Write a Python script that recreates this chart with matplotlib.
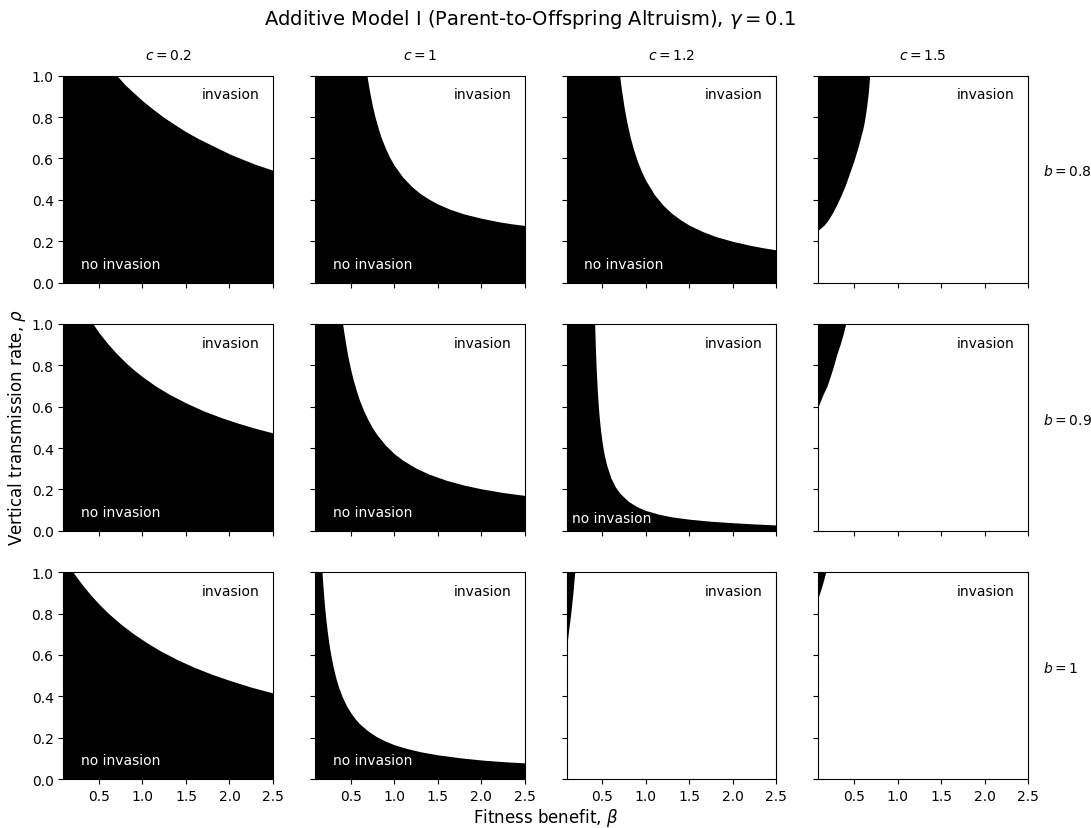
"""
Additive Model I (Parent-to-Offspring Altruism), gamma = 0.1
invasion / no invasion regions in the (beta, rho) plane
"""
import matplotlib
matplotlib.use("Agg")
import matplotlib.pyplot as plt

# panel parameters
c_values = [0.2, 1, 1.2, 1.5]
b_values = [0.8, 0.9, 1]
c_labels = ["0.2", "1", "1.2", "1.5"]
b_labels = ["0.8", "0.9", "1"]

beta_ticks = [0.5, 1.0, 1.5, 2.0, 2.5]
rho_ticks = [0.0, 0.2, 0.4, 0.6, 0.8, 1.0]

# boundaries (beta, rho)
# b = 0.8
beta_b08_c02 = [0.09, 0.707, 0.8, 0.9, 1.0, 1.1, 1.25, 1.4, 1.5, 1.65, 1.8, 2.0, 2.15, 2.3, 2.5]
rho_b08_c02 = [1.0, 1.0, 0.956, 0.917, 0.879, 0.845, 0.797, 0.756, 0.729, 0.694, 0.663,
               0.622, 0.596, 0.571, 0.543]

beta_b08_c1 = [0.09, 0.688, 0.70, 0.72, 0.75, 0.78, 0.82, 0.85, 0.9, 0.95, 1.0, 1.1, 1.2,
               1.3, 1.4, 1.5, 1.65, 1.8, 2.0, 2.2, 2.35, 2.5]
rho_b08_c1 = [1.0, 1.0, 0.967, 0.918, 0.854, 0.801, 0.741, 0.702, 0.649, 0.604, 0.567, 0.509,
              0.465, 0.430, 0.403, 0.380, 0.353, 0.332, 0.311, 0.294, 0.284, 0.276]

beta_b08_c12 = [0.09, 0.699, 0.72, 0.75, 0.78, 0.82, 0.86, 0.9, 0.95, 1.0, 1.1, 1.2, 1.3,
                1.4, 1.5, 1.65, 1.8, 2.0, 2.2, 2.35, 2.5]
rho_b08_c12 = [1.0, 1.0, 0.932, 0.848, 0.779, 0.703, 0.641, 0.590, 0.537, 0.493, 0.424, 0.373,
               0.334, 0.303, 0.277, 0.247, 0.223, 0.199, 0.180, 0.168, 0.158]

beta_b08_c15 = [0.09, 0.15, 0.2, 0.25, 0.3, 0.35, 0.4, 0.45, 0.5, 0.55, 0.6, 0.62, 0.645,
                0.665, 0.68]
rho_b08_c15 = [0.254, 0.275, 0.30, 0.335, 0.375, 0.42, 0.47, 0.53, 0.59, 0.66, 0.74, 0.78,
               0.85, 0.92, 1.0]

# b = 0.9
beta_b09_c02 = [0.09, 0.431, 0.5, 0.6, 0.7, 0.8, 0.9, 1.0, 1.15, 1.3, 1.5, 1.7, 1.9, 2.1,
                2.3, 2.5]
rho_b09_c02 = [1.0, 1.0, 0.958, 0.905, 0.858, 0.816, 0.778, 0.745, 0.700, 0.662, 0.618,
               0.580, 0.548, 0.520, 0.495, 0.473]

beta_b09_c1 = [0.09, 0.408, 0.42, 0.44, 0.46, 0.48, 0.5, 0.53, 0.56, 0.6, 0.65, 0.7, 0.75,
               0.8, 0.9, 1.0, 1.1, 1.25, 1.4, 1.6, 1.8, 2.0, 2.25, 2.5]
rho_b09_c1 = [1.0, 1.0, 0.965, 0.911, 0.862, 0.819, 0.780, 0.729, 0.685, 0.633, 0.580, 0.536,
              0.498, 0.466, 0.414, 0.373, 0.341, 0.303, 0.274, 0.244, 0.221, 0.203, 0.185,
              0.171]

beta_b09_c12 = [0.09, 0.412, 0.415, 0.42, 0.425, 0.43, 0.44, 0.45, 0.46, 0.47, 0.48, 0.5,
                0.52, 0.55, 0.6, 0.65, 0.7, 0.8, 0.9, 1.0, 1.15, 1.3, 1.5, 1.75, 2.0, 2.25,
                2.5]
rho_b09_c12 = [1.0, 1.0, 0.955, 0.889, 0.831, 0.780, 0.696, 0.627, 0.571, 0.525, 0.485, 0.421,
               0.372, 0.317, 0.254, 0.212, 0.182, 0.142, 0.116, 0.098, 0.080, 0.067, 0.056,
               0.046, 0.039, 0.033, 0.028]

beta_b09_c15 = [0.09, 0.14, 0.19, 0.23, 0.267, 0.30, 0.34, 0.375, 0.405]
rho_b09_c15 = [0.602, 0.655, 0.70, 0.75, 0.80, 0.85, 0.90, 0.95, 1.0]

# b = 1
beta_b10_c02 = [0.09, 0.202, 0.25, 0.3, 0.4, 0.5, 0.6, 0.75, 0.9, 1.05, 1.2, 1.4, 1.6, 1.8,
                2.0, 2.25, 2.5]
rho_b10_c02 = [1.0, 1.0, 0.972, 0.944, 0.892, 0.846, 0.804, 0.749, 0.701, 0.659, 0.621,
               0.577, 0.539, 0.506, 0.477, 0.444, 0.416]

beta_b10_c1 = [0.09, 0.171, 0.18, 0.19, 0.2, 0.215, 0.23, 0.25, 0.27, 0.3, 0.33, 0.36, 0.4,
               0.45, 0.5, 0.55, 0.6, 0.7, 0.8, 0.9, 1.0, 1.15, 1.3, 1.5, 1.75, 2.0, 2.25,
               2.5]
rho_b10_c1 = [1.0, 1.0, 0.943, 0.887, 0.837, 0.773, 0.718, 0.656, 0.604, 0.540, 0.488, 0.446,
              0.401, 0.356, 0.321, 0.292, 0.268, 0.232, 0.204, 0.183, 0.166, 0.147, 0.132,
              0.117, 0.103, 0.092, 0.084, 0.078]

beta_b10_c12 = [0.09, 0.11, 0.137, 0.16, 0.183]
rho_b10_c12 = [0.637, 0.71, 0.80, 0.89, 1.0]

beta_b10_c15 = [0.09, 0.11, 0.14, 0.175]
rho_b10_c15 = [0.879, 0.905, 0.945, 1.0]

# which side is black: "below" -> no invasion under the curve, "above" -> above it
panels = [
    [(beta_b08_c02, rho_b08_c02, "below"), (beta_b08_c1, rho_b08_c1, "below"),
     (beta_b08_c12, rho_b08_c12, "below"), (beta_b08_c15, rho_b08_c15, "above")],
    [(beta_b09_c02, rho_b09_c02, "below"), (beta_b09_c1, rho_b09_c1, "below"),
     (beta_b09_c12, rho_b09_c12, "below"), (beta_b09_c15, rho_b09_c15, "above")],
    [(beta_b10_c02, rho_b10_c02, "below"), (beta_b10_c1, rho_b10_c1, "below"),
     (beta_b10_c12, rho_b10_c12, "above"), (beta_b10_c15, rho_b10_c15, "above")],
]

fig, axes = plt.subplots(3, 4, figsize=(10.91, 8.29), dpi=100, sharex=True, sharey=True)
fig.subplots_adjust(left=0.058, right=0.9423, bottom=0.0591, top=0.9075,
                    wspace=0.2, hspace=0.2)

for i in range(3):
    for j in range(4):
        ax = axes[i, j]
        x, y, side = panels[i][j]
        if side == "below":
            ax.fill_between(x, 0, y, color="black", linewidth=0)
        else:
            ax.fill_between(x, y, 1, color="black", linewidth=0)
        ax.set_xlim(0.09, 2.5)
        ax.set_ylim(0, 1)
        ax.set_xticks(beta_ticks)
        ax.set_yticks(rho_ticks)

        ax.text(0.935, 0.91, "invasion", transform=ax.transAxes,
                ha="right", va="center", fontsize=10, color="black")
        if side == "below":
            if i == 1 and j == 2:
                ax.text(0.025, 0.062, "no invasion", transform=ax.transAxes,
                        ha="left", va="center", fontsize=10, color="white")
            else:
                ax.text(0.085, 0.092, "no invasion", transform=ax.transAxes,
                        ha="left", va="center", fontsize=10, color="white")

        if i == 0:
            ax.set_title(f"$c = {c_labels[j]}$", fontsize=10, pad=12)
        if j == 3:
            ax.text(1.07, 0.54, f"$b = {b_labels[i]}$", transform=ax.transAxes,
                    ha="left", va="center", fontsize=10)

fig.suptitle(r"Additive Model I (Parent-to-Offspring Altruism), $\gamma = 0.1$",
             x=0.486, y=0.976, fontsize=14, va="center")
fig.text(0.5, 0.013, r"Fitness benefit, $\beta$", ha="center", va="center", fontsize=12)
fig.text(0.016, 0.484, r"Vertical transmission rate, $\rho$", ha="center", va="center",
         rotation=90, fontsize=12)

plt.savefig("out.png", dpi=100)
plt.close()
